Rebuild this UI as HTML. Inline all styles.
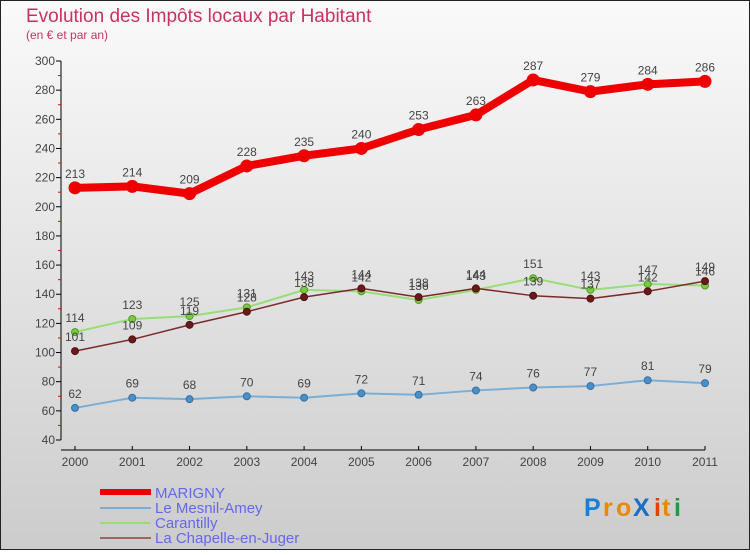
<!DOCTYPE html>
<html><head><meta charset="utf-8"><style>
html,body{margin:0;padding:0}
body{width:750px;height:550px;overflow:hidden;font-family:"Liberation Sans",sans-serif}
</style></head><body>
<svg width="750" height="550" viewBox="0 0 750 550" xmlns="http://www.w3.org/2000/svg">
<defs><linearGradient id="bg" x1="0" y1="0" x2="0" y2="1"><stop offset="0" stop-color="#fafafa"/><stop offset="1" stop-color="#cccccc"/></linearGradient></defs>
<rect x="0.5" y="0.5" width="749" height="549" fill="url(#bg)" stroke="#222"/>
<text x="26" y="22" font-size="19" fill="#c8325f">Evolution des Impôts locaux par Habitant</text>
<text x="26" y="39" font-size="12" fill="#c8325f">(en € et par an)</text>
<g id="axes"></g><g id="series"></g>
<g>
<rect x="100" y="489" width="51" height="6" fill="#e00"/>
<line x1="100" y1="508" x2="151" y2="508" stroke="#7aaed6" stroke-width="2"/>
<line x1="100" y1="523" x2="151" y2="523" stroke="#99dd77" stroke-width="2"/>
<line x1="100" y1="538" x2="151" y2="538" stroke="#996666" stroke-width="2"/>
<g font-size="15" fill="#6666ee">
<text x="155" y="498">MARIGNY</text>
<text x="155" y="513">Le Mesnil-Amey</text>
<text x="155" y="528">Carantilly</text>
<text x="155" y="543">La Chapelle-en-Juger</text>
</g></g>
<g font-size="25" font-weight="bold">
<text x="584" y="516" fill="#1a7fd4">P</text><text x="603" y="516" fill="#e88a00">r</text><text x="616" y="516" fill="#e88a00">o</text><text x="633" y="516" fill="#1a6fc4">X</text><text x="654" y="516" fill="#e84000">i</text><text x="662" y="516" fill="#e88a00">t</text><text x="674" y="516" fill="#229944">i</text>
</g>
</svg>
<script>
const years=["2000","2001","2002","2003","2004","2005","2006","2007","2008","2009","2010","2011"];
const yTicks=[40,60,80,100,120,140,160,180,200,220,240,260,280,300];
const marigny=[213,214,209,228,235,240,253,263,287,279,284,286];
const mesnil=[62,69,68,70,69,72,71,74,76,77,81,79];
const carantilly=[114,123,125,131,143,142,136,143,151,143,147,146];
const chapelle=[101,109,119,128,138,144,138,144,139,137,142,149];
const NS="http://www.w3.org/2000/svg";
const x=i=>75+i*(630/11);
const y=v=>440-(v-40)*(379/260);
function mk(t,a,p){const e=document.createElementNS(NS,t);for(const k in a)e.setAttribute(k,a[k]);p.appendChild(e);return e;}
const ax=document.getElementById('axes');
let e=mk('line',{x1:61,y1:y(300),x2:61,y2:y(40),stroke:'#000'},ax);


e=mk('line',{x1:61,y1:450,x2:705,y2:450,stroke:'#000'},ax);


yTicks.forEach((v,i)=>{
 mk('line',{x1:56,y1:y(v),x2:61,y2:y(v),stroke:'#000'},ax);
 if(i<yTicks.length-1){mk('line',{x1:58,y1:y(v+10),x2:61,y2:y(v+10),stroke:'#e00'},ax);}
 const t=mk('text',{x:55,y:y(v)+4,'text-anchor':'end','font-size':12,fill:'#444'},ax);
 t.textContent=v;
 
 
});
years.forEach((yr,i)=>{
 mk('line',{x1:x(i),y1:446,x2:x(i),y2:450,stroke:'#000'},ax);
 const t=mk('text',{x:x(i),y:466,'text-anchor':'middle','font-size':12,fill:'#444'},ax);
 t.textContent=yr;
 
 
});
const sg=document.getElementById('series');
function series(data,name,color,w,r,dot,stroke){
 const g=mk('g',{},sg);
 
 
 const p=mk('polyline',{points:data.map((v,i)=>x(i)+','+y(v)).join(' '),fill:'none',stroke:color,'stroke-width':w,'stroke-linejoin':'round'},g);
 
 
 data.forEach((v,i)=>{
  const c=mk('circle',{cx:x(i),cy:y(v),r:r,fill:dot,stroke:stroke,'stroke-width':1},g);
  
  
  const t=mk('text',{x:x(i),y:y(v)-10,'text-anchor':'middle','font-size':12,fill:'#444'},g);
  t.textContent=v;
  
  
 });
}
series(mesnil,'mesnil','#7aaed6',2,3.5,'#4a90c8','#3a6fa0');
series(carantilly,'carantilly','#99dd77',2,3.5,'#77cc44','#559922');
series(chapelle,'chapelle','#7a2a2a',1.5,3.5,'#6a1a1a','#501010');
series(marigny,'marigny','#e00',8,6,'#e00','#e00');
</script>
</body></html>
